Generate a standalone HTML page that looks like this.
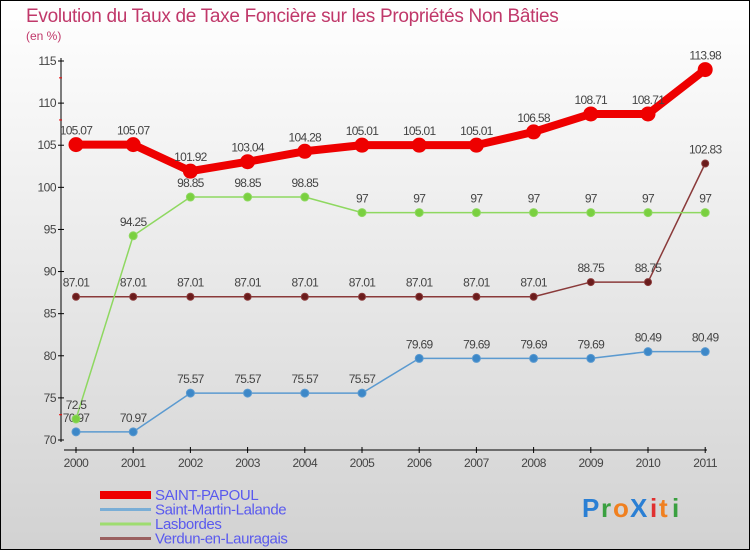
<!DOCTYPE html>
<html><head><meta charset="utf-8"><style>
body{margin:0}
#wrap{width:750px;height:550px;position:relative;overflow:hidden}
text{font-family:"Liberation Sans",sans-serif}
</style></head><body>
<div id="wrap">
<svg id="chart" width="750" height="550" xmlns="http://www.w3.org/2000/svg">
<defs><linearGradient id="bg" x1="0" y1="0" x2="0" y2="1"><stop offset="0" stop-color="#ffffff"/><stop offset="1" stop-color="#d2d2d2"/></linearGradient></defs>
<rect x="0.5" y="0.5" width="749" height="549" fill="url(#bg)" stroke="#000"/>
<text x="26" y="22" font-size="19" fill="#c0386a" letter-spacing="-0.3">Evolution du Taux de Taxe Foncière sur les Propriétés Non Bâties</text>
<text x="26" y="40" font-size="12" fill="#c0386a">(en %)</text>
<g id="axes"></g>
<g id="series"></g>
<g id="legend"></g>
<g font-size="26" font-weight="bold">
<text x="582" y="517" fill="#2a7fd4">P</text><text x="601" y="517" fill="#3aa040">r</text><text x="613" y="517" fill="#f08020">o</text><text x="630" y="517" fill="#2a7fd4">X</text><text x="650" y="517" fill="#e03030">i</text><text x="659" y="517" fill="#f08020">t</text><text x="672" y="517" fill="#3aa040">i</text>
</g>
</svg></div>
<script>
const years=[2000,2001,2002,2003,2004,2005,2006,2007,2008,2009,2010,2011];
const yTicks=[70,75,80,85,90,95,100,105,110,115];
const seriesNames=["SAINT-PAPOUL","Saint-Martin-Lalande","Lasbordes","Verdun-en-Lauragais"];
const saintPapoul=[105.07,105.07,101.92,103.04,104.28,105.01,105.01,105.01,106.58,108.71,108.71,113.98];
const saintMartin=[70.97,70.97,75.57,75.57,75.57,75.57,79.69,79.69,79.69,79.69,80.49,80.49];
const lasbordes=[72.5,94.25,98.85,98.85,98.85,97,97,97,97,97,97,97];
const verdun=[87.01,87.01,87.01,87.01,87.01,87.01,87.01,87.01,87.01,88.75,88.75,102.83];
const NS="http://www.w3.org/2000/svg";
const xS=i=>76+i*57.2;
const yS=v=>440-(v-70)*(379/45);
function mk(tag,attrs,parent){const e=document.createElementNS(NS,tag);for(const k in attrs)e.setAttribute(k,attrs[k]);parent.appendChild(e);return e;}
const axes=document.getElementById('axes');
let l=mk('line',{x1:61,y1:58,x2:61,y2:442,stroke:'#000'},axes);


l=mk('line',{x1:64,y1:450,x2:707,y2:450,stroke:'#000'},axes);


[113,108,73].forEach(v=>{mk('line',{x1:59,y1:yS(v),x2:62,y2:yS(v),stroke:'#e00'},axes);});
yTicks.forEach(v=>{
 const y=yS(v);
 mk('line',{x1:58,y1:y,x2:64,y2:y,stroke:'#000'},axes);
 const t=mk('text',{x:56,y:y+4,'font-size':12,fill:'#444','text-anchor':'end','letter-spacing':'-0.5'},axes);
 t.textContent=v;
 
 
});
years.forEach((yr,i)=>{
 const x=xS(i);
 mk('line',{x1:x,y1:447,x2:x,y2:453,stroke:'#000'},axes);
 const t=mk('text',{x:x,y:467,'font-size':12,fill:'#444','text-anchor':'middle','letter-spacing':'-0.5'},axes);
 t.textContent=yr;
 
 
});
const sg=document.getElementById('series');
function draw(data,color,dot,w,r,name){
 const g=mk('g',{},sg);
 
 
 const p=mk('polyline',{points:data.map((v,i)=>xS(i)+','+yS(v)).join(' '),fill:'none',stroke:color,'stroke-width':w,'stroke-linejoin':'round'},g);
 
 
 data.forEach((v,i)=>{
  const c=mk('circle',{cx:xS(i),cy:yS(v),r:r,fill:dot,stroke:color,'stroke-width':1},g);
  
  
  const t=mk('text',{x:xS(i),y:yS(v)-10,'font-size':12,fill:'#444','text-anchor':'middle','letter-spacing':'-0.7'},g);
  t.textContent=String(v);
  
  
 });
}
draw(saintMartin,'#5b9ad0','#3d88c8',1.5,4,'saint-martin-lalande');
draw(verdun,'#8a3a3a','#6a1c1c',1.5,3.5,'verdun-en-lauragais');
draw(lasbordes,'#8ed860','#7ad040',1.5,4,'lasbordes');
draw(saintPapoul,'#ee0000','#ee0000',8,7,'saint-papoul');
const lg=document.getElementById('legend');
const lcol=['#ee0000','#7aaed6','#9edc70','#9a6060'];
const lw=[8,3,3,3];
seriesNames.forEach((n,i)=>{
 const y=493+i*14.5;
 const g=mk('g',{},lg);
 
 
 mk('line',{x1:100,y1:y+2,x2:151,y2:y+2,stroke:lcol[i],'stroke-width':lw[i]},g);
 const t=mk('text',{x:155,y:y+7,'font-size':15,fill:'#5a5aee','letter-spacing':'-0.4'},g);
 t.textContent=n;
});
</script>
</body></html>
